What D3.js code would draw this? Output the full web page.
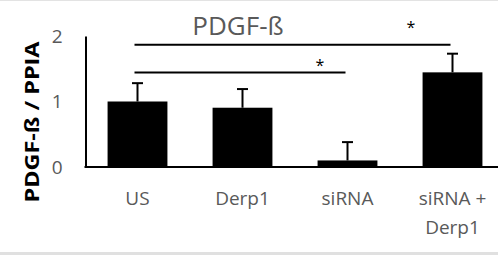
<!DOCTYPE html>
<html><head><meta charset="utf-8">
<script src="https://cdn.jsdelivr.net/npm/d3@7"></script>
<style>
html,body{margin:0;padding:0;background:#fff;}
svg{display:block;}
</style></head>
<body>
<script>
const categories = ["US", "Derp1", "siRNA", "siRNA +|Derp1"];
const values = [1.00, 0.905, 0.10, 1.445];
const errors = [0.28, 0.285, 0.28, 0.285];
const yTicks = [0, 1, 2];
const title = "PDGF-ß";
const yTitle = "PDGF-ß / PPIA";
const sigPairs = [
  {from: 0, to: 3, level: 0, label: "*"},
  {from: 0, to: 2, level: 1, label: "*"}
];

const W = 498, H = 257;
const svg = d3.select("body").append("svg").attr("width", W).attr("height", H);
const font = "'Open Sans', sans-serif";
const gray = "#595959";

// frame
svg.append("rect").attr("x",0).attr("y",0).attr("width",W).attr("height",1).attr("fill","#e3e3e3");
svg.append("rect").attr("x",0).attr("y",252).attr("width",W).attr("height",3).attr("fill","#e0e0e0");

const x = d3.scaleBand().domain(d3.range(categories.length)).range([85, 505]).paddingInner(0.43).paddingOuter(0.215);
const y = d3.scaleLinear().domain([0, 2]).range([167, 36]);

// bars
svg.selectAll("rect.bar").data(values).join("rect").attr("class","bar")
  .attr("x",(d,i)=>x(i)).attr("width",x.bandwidth())
  .attr("y",d=>y(d)).attr("height",d=>y(0)-y(d)).attr("fill","#000");

// error bars
const cx = i => x(i) + x.bandwidth()/2;
svg.selectAll("line.err").data(values).join("line").attr("class","err")
  .attr("x1",(d,i)=>cx(i)).attr("x2",(d,i)=>cx(i))
  .attr("y1",d=>y(d)).attr("y2",(d,i)=>y(d+errors[i]))
  .attr("stroke","#000").attr("stroke-width",2);
svg.selectAll("line.cap").data(values).join("line").attr("class","cap")
  .attr("x1",(d,i)=>cx(i)-5.5).attr("x2",(d,i)=>cx(i)+5.5)
  .attr("y1",(d,i)=>y(d+errors[i])).attr("y2",(d,i)=>y(d+errors[i]))
  .attr("stroke","#000").attr("stroke-width",2);

// axes
const yAxis = d3.axisLeft(y).tickValues(yTicks).tickSize(0).tickPadding(23).tickFormat(d3.format("d"));
const gy = svg.append("g").attr("transform","translate(85.5,0)").call(yAxis);
gy.select(".domain").attr("stroke","#000").attr("stroke-width",2);
gy.selectAll("text").attr("font-family",font).attr("font-size",19).attr("fill",gray);

const xAxis = d3.axisBottom(x).tickSize(0).tickFormat(()=>"");
const gx = svg.append("g").attr("transform","translate(0,167)").call(xAxis);
gx.select(".domain").attr("stroke","#000").attr("stroke-width",2).attr("d","M84.5,0H498");

// category labels
categories.forEach((c,i)=>{
  const lines = c.split("|");
  lines.forEach((ln,j)=>{
    svg.append("text").attr("x",cx(i)).attr("y",205+j*29)
      .attr("text-anchor","middle").attr("font-family",font).attr("font-size",19)
      .attr("fill",gray).text(ln);
  });
});

// significance
const sigY = [44.7, 72.5];
const starY = [33, 71];
const starX = [411, 320];
sigPairs.forEach((s,k)=>{
  svg.append("line").attr("x1",cx(s.from)-3).attr("x2",cx(s.to)-2)
    .attr("y1",sigY[s.level]).attr("y2",sigY[s.level]).attr("stroke","#000").attr("stroke-width",2);
  svg.append("text").attr("x",starX[k]).attr("y",starY[s.level])
    .attr("text-anchor","middle").attr("font-family",font).attr("font-size",16).attr("fill","#000").text(s.label);
});

// title
svg.append("text").attr("x",238).attr("y",35).attr("text-anchor","middle")
  .attr("font-family",font).attr("font-size",26).attr("fill",gray).text(title);

// y title
svg.append("text").attr("transform","translate(39,122) rotate(-90) scale(1.2,1)").attr("text-anchor","middle")
  .attr("font-family",font).attr("font-weight","bold").attr("font-size",19.5).attr("fill","#000").text(yTitle);
</script>
</body></html>
